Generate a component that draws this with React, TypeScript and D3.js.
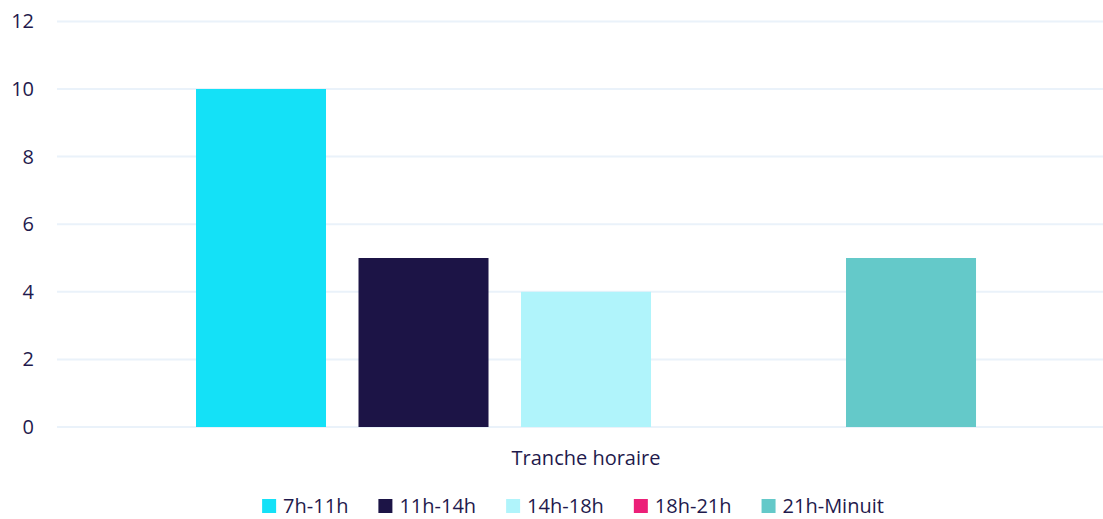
import React, { useRef, useEffect } from "react";
import * as d3 from "d3";

// data
const category = "Tranche horaire";
const series = ["7h-11h", "11h-14h", "14h-18h", "18h-21h", "21h-Minuit"];
const values = [10, 5, 4, 0, 5];
const colors = ["#14E1F7", "#1C1446", "#B0F4FB", "#EC1F78", "#64C9C9"];
const yTicks = [0, 2, 4, 6, 8, 10, 12];

const W = 1103;
const H = 519;
const textColor = "#1F1A4D";
const font = "'Open Sans', sans-serif";

const App = () => {
  const svgRef = useRef<SVGSVGElement>(null);

  useEffect(() => {
    const svg = d3.select(svgRef.current);
    svg.selectAll("*").remove();

    //scales
    const y = d3.scaleLinear().domain([0, 12]).range([427, 21.4]);
    const x0 = d3
      .scaleBand()
      .domain([category])
      .range([57, 1103])
      .paddingInner(0)
      .paddingOuter(0.1705)
      .align(0.5226);
    const x1 = d3
      .scaleBand()
      .domain(series)
      .range([0, x0.bandwidth()])
      .paddingInner(0.2)
      .paddingOuter(0);

    //gridlines
    svg
      .append("g")
      .selectAll("line")
      .data(yTicks)
      .join("line")
      .attr("x1", 57)
      .attr("x2", 1103)
      .attr("y1", (d) => y(d))
      .attr("y2", (d) => y(d))
      .attr("stroke", "#EAF2FA")
      .attr("stroke-width", 2);

    //y labels
    svg
      .append("g")
      .selectAll("text")
      .data(yTicks)
      .join("text")
      .attr("x", 34)
      .attr("y", (d) => y(d))
      .attr("dy", "0.35em")
      .attr("text-anchor", "end")
      .attr("font-family", font)
      .attr("font-size", 20)
      .attr("fill", textColor)
      .text((d) => d);

    //bars
    svg
      .append("g")
      .attr("transform", `translate(${x0(category)},0)`)
      .selectAll("rect")
      .data(values)
      .join("rect")
      .attr("x", (d, i) => x1(series[i])!)
      .attr("y", (d) => y(d))
      .attr("width", x1.bandwidth())
      .attr("height", (d) => y(0) - y(d))
      .attr("fill", (d, i) => colors[i]);

    //category label
    svg
      .append("text")
      .attr("x", x0(category)! + x0.bandwidth() / 2)
      .attr("y", 465)
      .attr("text-anchor", "middle")
      .attr("font-family", font)
      .attr("font-size", 20)
      .attr("fill", textColor)
      .text(category);

    //legend
    const legend = svg.append("g");
    const items = legend
      .selectAll("g")
      .data(series)
      .join("g");
    items
      .append("rect")
      .attr("width", 14)
      .attr("height", 14)
      .attr("y", -7)
      .attr("fill", (d, i) => colors[i]);
    const labels = items
      .append("text")
      .attr("x", 21)
      .attr("dy", "0.35em")
      .attr("font-family", font)
      .attr("font-size", 20)
      .attr("fill", textColor)
      .text((d) => d);

    const gap = 30;
    let pos = 0;
    const offsets: number[] = [];
    labels.each(function () {
      offsets.push(pos);
      pos += 21 + (this as SVGTextElement).getComputedTextLength() + gap;
    });
    const total = pos - gap;
    const start = 573 - total / 2;
    items.attr("transform", (d, i) => `translate(${start + offsets[i]},506)`);
  }, []);

  return (
    <div style={{ position: "fixed", left: 0, top: 0 }}>
      <svg ref={svgRef} width={W} height={H} style={{ display: "block", background: "#fff" }} />
    </div>
  );
};

export default App;
